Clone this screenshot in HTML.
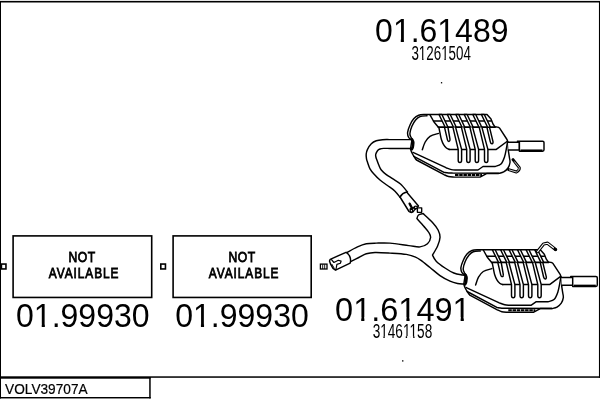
<!DOCTYPE html>
<html lang="en">
<head>
<meta charset="utf-8">
<title>VOLV39707A</title>
<style>
html,body{margin:0;padding:0;background:#fff;}
body{width:600px;height:400px;overflow:hidden;}
svg{display:block;will-change:transform;}
text{font-family:"Liberation Sans",Arial,Helvetica,sans-serif;fill:#000;}
.ln{fill:none;stroke:#000;stroke-width:1.45;stroke-linecap:round;stroke-linejoin:round;}
.lw{fill:#fff;stroke:#000;stroke-width:1.45;stroke-linecap:round;stroke-linejoin:round;}
</style>
</head>
<body>
<svg width="600" height="400" viewBox="0 0 600 400">
<rect x="0" y="0" width="600" height="400" fill="#fff"/>
<g id="frame" fill="#000">
<rect x="0" y="0.9" width="600" height="1.6"/>
<rect x="0" y="1" width="1" height="397.5"/>
<rect x="598.95" y="1" width="1.05" height="376.8"/>
<rect x="0" y="376.3" width="600" height="1.5"/>
<rect x="0" y="377" width="150.6" height="1.7"/>
<rect x="149.2" y="377" width="1.5" height="21.4"/>
<rect x="0" y="397" width="150.7" height="1.45"/>
</g>
<g id="boxes" fill="none" stroke="#000" stroke-width="1.6">
<rect x="13.1" y="235.9" width="138.6" height="61.55"/>
<rect x="173.1" y="235.9" width="138.1" height="61.55"/>
<rect x="1.4" y="264.05" width="4.55" height="4.9"/>
<rect x="160.8" y="264.05" width="4.65" height="4.9"/>
<rect x="320.4" y="264.1" width="6.6" height="4.9" stroke-width="1.3"/>
<path d="M322.7 264.3V269M324.7 264.3V269" stroke-width="0.9"/>
</g>
<g id="drawing">
<path class="lw" d="M412.50 139.60C410.42 139.60 403.75 139.60 400.00 139.60C396.25 139.60 392.92 139.58 390.00 139.60C387.08 139.62 384.78 139.50 382.50 139.70C380.22 139.90 378.17 140.12 376.30 140.80C374.43 141.48 372.77 142.37 371.30 143.80C369.83 145.23 368.35 147.70 367.50 149.40C366.65 151.10 366.37 152.43 366.20 154.00C366.03 155.57 366.27 157.38 366.50 158.80C366.73 160.22 367.02 160.83 367.60 162.50C368.18 164.17 368.98 166.93 370.00 168.80C371.02 170.67 372.03 171.83 373.70 173.70C375.37 175.57 377.70 178.03 380.00 180.00C382.30 181.97 385.00 183.63 387.50 185.50C390.00 187.37 392.92 189.23 395.00 191.20C397.08 193.17 399.17 196.28 400.00 197.30L407.50 192.00C406.33 190.67 403.00 186.23 400.50 184.00C398.00 181.77 394.87 180.17 392.50 178.60C390.13 177.03 388.17 176.03 386.30 174.60C384.43 173.17 382.55 171.60 381.30 170.00C380.05 168.40 379.53 166.67 378.80 165.00C378.07 163.33 377.37 161.25 376.90 160.00C376.43 158.75 376.20 158.43 376.00 157.50C375.80 156.57 375.45 155.53 375.70 154.40C375.95 153.27 376.78 151.60 377.50 150.70C378.22 149.80 378.95 149.38 380.00 149.00C381.05 148.62 382.13 148.50 383.80 148.40C385.47 148.30 387.30 148.40 390.00 148.40C392.70 148.40 396.25 148.40 400.00 148.40C403.75 148.40 410.42 148.40 412.50 148.40"/>
<path class="lw" d="M400 197C401.5 194.6 404 192.6 406.6 192L418.5 206L414.2 210.3C413.2 212.6 411 213.2 409 211.5Z"/>
<rect x="417.4" y="207.8" width="4.3" height="4.5" class="lw" style="stroke-width:1.35"/>
<path d="M409.6 203.6L412.3 208.8" fill="none" stroke="#000" stroke-width="2.3" stroke-linecap="round"/>
<path d="M410.4 209.2L416 206.7" fill="none" stroke="#000" stroke-width="1.9" stroke-linecap="round"/>
<circle cx="411.4" cy="210.7" r="1.3" class="lw" style="stroke-width:1.2"/>
<rect x="414.6" y="206.2" width="2.4" height="2.4" class="lw" style="stroke-width:1.1"/>
<path class="lw" d="M346.90 252.50C348.67 251.57 354.27 248.35 357.50 246.90C360.73 245.45 363.17 244.43 366.30 243.80C369.43 243.17 372.35 243.22 376.30 243.10C380.25 242.98 384.58 242.68 390.00 243.10C395.42 243.52 403.80 244.97 408.80 245.60C413.80 246.23 416.88 247.20 420.00 246.90C423.12 246.60 425.73 245.37 427.50 243.80C429.27 242.23 430.38 239.38 430.60 237.50C430.82 235.62 429.93 234.37 428.80 232.50C427.67 230.63 425.78 228.62 423.80 226.30C421.82 223.98 418.05 219.88 416.90 218.60C417.17 218.00 417.47 215.83 418.50 215.00C419.53 214.17 422.33 213.83 423.10 213.60C424.67 215.08 430.00 219.77 432.50 222.50C435.00 225.23 436.85 227.50 438.10 230.00C439.35 232.50 440.10 234.78 440.00 237.50C439.90 240.22 438.75 243.38 437.50 246.30C436.25 249.22 433.33 253.55 432.50 255.00C433.12 256.37 434.12 259.10 436.20 261.20C438.28 263.30 442.07 266.03 445.00 268.00C447.93 269.97 450.88 271.83 453.80 273.00C456.72 274.17 460.13 274.57 462.50 275.00C464.87 275.43 467.08 275.50 468.00 275.60L468.00 284.20C467.30 284.17 465.55 284.12 463.80 284.00C462.05 283.88 459.80 283.97 457.50 283.50C455.20 283.03 452.92 282.52 450.00 281.20C447.08 279.88 443.33 277.88 440.00 275.60C436.67 273.32 433.17 270.03 430.00 267.50C426.83 264.97 423.50 262.17 421.00 260.40C418.50 258.63 417.45 257.90 415.00 256.90C412.55 255.90 410.47 255.03 406.30 254.40C402.13 253.77 395.22 253.42 390.00 253.10C384.78 252.78 378.95 252.38 375.00 252.50C371.05 252.62 369.00 252.97 366.30 253.80C363.60 254.63 361.42 256.20 358.80 257.50C356.18 258.80 351.97 260.92 350.60 261.60"/>
<path class="lw" d="M330.2 259.3L346 252.3C349.3 254 351.5 258.5 350.2 263.1L335.5 270.1L333 268.4L330.6 264.2L329.5 261Z"/>
<path class="ln" d="M331.5 259.6L333.9 262.5L338.3 260.3L341.1 261L340.4 263.2L336.9 264.4L336.4 267.2L335.8 269.8" style="stroke-width:1.2"/>
<path class="ln" d="M331.9 264.3L334.2 268.2" style="stroke-width:1"/>
<g id="muffler1">
<path class="lw" d="M425.00 114.50C423.95 114.63 420.58 114.58 418.70 115.30C416.82 116.02 415.15 117.18 413.70 118.80C412.25 120.42 411.02 122.72 410.00 125.00C408.98 127.28 407.82 130.42 407.60 132.50C407.38 134.58 407.98 136.25 408.70 137.50C409.42 138.75 411.37 139.58 411.90 140.00L410.5 149C410.75 149.67 411.25 151.50 412.00 153.00C412.75 154.50 414.25 156.83 415.00 158.00C415.75 159.17 416.25 159.67 416.50 160.00L444 174.6C444.75 174.92 446.83 176.08 448.50 176.50C450.17 176.92 453.08 177.00 454.00 177.10L480 177.1L487 173.4L498.7 173.4C499.53 173.15 502.15 172.80 503.70 171.90C505.25 171.00 506.95 169.57 508.00 168.00C509.05 166.43 509.77 164.25 510.00 162.50C510.23 160.75 509.67 159.42 509.40 157.50C509.13 155.58 508.57 152.08 508.40 151.00L508 142.3L507 139.5L499.6 128.2Q498.8 127 497 127L495 126.8L493 124L491 119L487 114.5Z"/>
<path class="ln" d="M427.00 115.80C425.83 115.93 421.90 115.90 420.00 116.60C418.10 117.30 416.95 118.38 415.60 120.00C414.25 121.62 412.85 124.05 411.90 126.30C410.95 128.55 410.05 131.67 409.90 133.50C409.75 135.33 410.55 136.33 411.00 137.30C411.45 138.27 412.33 138.97 412.60 139.30"/>
<path d="M411.7 139.4C412.9 140.6 413.5 142.4 413.1 144.2C412.8 146 413.1 147.6 411.9 149" fill="none" stroke="#000" stroke-width="2.7" stroke-linecap="round"/>
<path class="ln" d="M413 152.4L446 167.7C446.92 168.02 449.83 169.22 451.50 169.60C453.17 169.98 455.25 169.93 456.00 170.00L478 170L483 166.5L495 166.5C496.00 166.08 499.42 165.58 501.00 164.00C502.58 162.42 503.58 159.67 504.50 157.00C505.42 154.33 506.00 150.58 506.50 148.00C507.00 145.42 507.33 142.58 507.50 141.50"/>
<path class="ln" d="M413.8 156.3L444 172.4C444.75 172.50 447.00 172.88 448.50 173.00C450.00 173.12 452.25 173.08 453.00 173.10L498.7 173.3"/>
<path d="M455 175H482" fill="none" stroke="#000" stroke-width="2.1" stroke-dasharray="3.5 0.7"/>
<path class="ln" d="M507 141.5L496.3 149.4L449 149.4"/>
<path class="ln" d="M430.00 114.80L434.00 122.00L439.00 128.00C439.17 128.83 439.60 131.08 440.00 133.00C440.40 134.92 440.80 137.57 441.40 139.50C442.00 141.43 442.77 143.18 443.60 144.60C444.43 146.02 445.42 147.20 446.40 148.00C447.38 148.80 448.98 149.17 449.50 149.40"/>
<path class="ln" d="M438.50 133.40C437.08 133.88 432.22 134.87 430.00 136.30C427.78 137.73 426.48 139.75 425.20 142.00C423.92 144.25 422.78 148.50 422.30 149.80"/>
<path class="ln" d="M433.5 121H491"/>
<path class="ln" d="M438.5 127.2H495" style="stroke-width:1.8"/>
<path class="lw" d="M439.00 114.50L445.20 127.20L448.00 127.20L441.90 114.50Z"/>
<path class="lw" d="M447.30 114.50L453.50 127.20L456.30 127.20L450.20 114.50Z"/>
<path class="lw" d="M455.80 114.50L462.00 127.20L464.80 127.20L458.70 114.50Z"/>
<path class="lw" d="M464.20 114.50L470.40 127.20L473.20 127.20L467.10 114.50Z"/>
<path class="lw" d="M472.80 114.50L479.00 127.20L481.80 127.20L475.70 114.50Z"/>
<path class="lw" d="M481.40 114.50L487.60 127.20L490.40 127.20L484.30 114.50Z"/>
<path class="ln" d="M444.6 127.6L447.4 139.6C448 142.2 450.2 142 450 139.4L448 127.6"/>
<path class="ln" d="M487 127.6L490.3 141.8C491 144.6 493.4 144.2 493 141.6L489.6 127.6"/>
<path class="lw" d="M453 127.6L458.2 149.4L458.2 160.3C458.2 163.3 461.6 163.3 461.6 160.3L461.6 149.4L455.7 127.6"/>
<path class="lw" d="M461.5 127.6L466.7 149.4L466.7 160.3C466.7 163.3 470.1 163.3 470.1 160.3L470.1 149.4L464.2 127.6"/>
<path class="lw" d="M470 127.6L475.2 149.4L475.2 160.3C475.2 163.3 478.6 163.3 478.6 160.3L478.6 149.4L472.7 127.6"/>
<path class="lw" d="M479.3 127.6L484.5 149.4L484.5 160.3C484.5 163.3 487.9 163.3 487.9 160.3L487.9 149.4L482.0 127.6"/>
<path class="lw" d="M508 142.3H519.4V150H508.4"/>
<path class="lw" d="M517.4 141.2H542.6Q544 141.2 544 142.6V149.8Q544 151.2 542.6 151.2H519.4V141.2"/>
<path d="M520.5 150.3H542.5" fill="none" stroke="#000" stroke-width="1.7"/>
<path d="M513 159.6L519.3 167.6Q519.8 170.2 516.4 172L508.6 169.6" fill="none" stroke="#000" stroke-width="2.9" stroke-linecap="round" stroke-linejoin="round"/>
<path d="M514.6 161.8L519.3 167.6Q519.8 170.2 516.4 172L509.4 169.9" fill="none" stroke="#fff" stroke-width="0.8" stroke-linecap="round" stroke-linejoin="round"/>
</g>
<g id="muffler2" transform="translate(53.3 135.2)">
<path class="lw" d="M425.00 114.50C423.95 114.63 420.58 114.58 418.70 115.30C416.82 116.02 415.15 117.18 413.70 118.80C412.25 120.42 411.02 122.72 410.00 125.00C408.98 127.28 407.82 130.42 407.60 132.50C407.38 134.58 407.98 136.25 408.70 137.50C409.42 138.75 411.37 139.58 411.90 140.00L410.5 149C410.75 149.67 411.25 151.50 412.00 153.00C412.75 154.50 414.25 156.83 415.00 158.00C415.75 159.17 416.25 159.67 416.50 160.00L444 174.6C444.75 174.92 446.83 176.08 448.50 176.50C450.17 176.92 453.08 177.00 454.00 177.10L480 177.1L487 173.4L498.7 173.4C499.53 173.15 502.15 172.80 503.70 171.90C505.25 171.00 506.95 169.57 508.00 168.00C509.05 166.43 509.77 164.25 510.00 162.50C510.23 160.75 509.67 159.42 509.40 157.50C509.13 155.58 508.57 152.08 508.40 151.00L508 142.3L507 139.5L499.6 128.2Q498.8 127 497 127L495 126.8L493 124L491 119L487 114.5Z"/>
<path class="ln" d="M427.00 115.80C425.83 115.93 421.90 115.90 420.00 116.60C418.10 117.30 416.95 118.38 415.60 120.00C414.25 121.62 412.85 124.05 411.90 126.30C410.95 128.55 410.05 131.67 409.90 133.50C409.75 135.33 410.55 136.33 411.00 137.30C411.45 138.27 412.33 138.97 412.60 139.30"/>
<path d="M411.7 139.4C412.9 140.6 413.5 142.4 413.1 144.2C412.8 146 413.1 147.6 411.9 149" fill="none" stroke="#000" stroke-width="2.7" stroke-linecap="round"/>
<path class="ln" d="M413 152.4L446 167.7C446.92 168.02 449.83 169.22 451.50 169.60C453.17 169.98 455.25 169.93 456.00 170.00L478 170L483 166.5L495 166.5C496.00 166.08 499.42 165.58 501.00 164.00C502.58 162.42 503.58 159.67 504.50 157.00C505.42 154.33 506.00 150.58 506.50 148.00C507.00 145.42 507.33 142.58 507.50 141.50"/>
<path class="ln" d="M413.8 156.3L444 172.4C444.75 172.50 447.00 172.88 448.50 173.00C450.00 173.12 452.25 173.08 453.00 173.10L498.7 173.3"/>
<path d="M455 175H482" fill="none" stroke="#000" stroke-width="2.1" stroke-dasharray="3.5 0.7"/>
<path class="ln" d="M507 141.5L496.3 149.4L449 149.4"/>
<path class="ln" d="M430.00 114.80L434.00 122.00L439.00 128.00C439.17 128.83 439.60 131.08 440.00 133.00C440.40 134.92 440.80 137.57 441.40 139.50C442.00 141.43 442.77 143.18 443.60 144.60C444.43 146.02 445.42 147.20 446.40 148.00C447.38 148.80 448.98 149.17 449.50 149.40"/>
<path class="ln" d="M438.50 133.40C437.08 133.88 432.22 134.87 430.00 136.30C427.78 137.73 426.48 139.75 425.20 142.00C423.92 144.25 422.78 148.50 422.30 149.80"/>
<path class="ln" d="M433.5 121H491"/>
<path class="ln" d="M438.5 127.2H495" style="stroke-width:1.8"/>
<path class="lw" d="M439.00 114.50L445.20 127.20L448.00 127.20L441.90 114.50Z"/>
<path class="lw" d="M447.30 114.50L453.50 127.20L456.30 127.20L450.20 114.50Z"/>
<path class="lw" d="M455.80 114.50L462.00 127.20L464.80 127.20L458.70 114.50Z"/>
<path class="lw" d="M464.20 114.50L470.40 127.20L473.20 127.20L467.10 114.50Z"/>
<path class="lw" d="M472.80 114.50L479.00 127.20L481.80 127.20L475.70 114.50Z"/>
<path class="lw" d="M481.40 114.50L487.60 127.20L490.40 127.20L484.30 114.50Z"/>
<path class="ln" d="M444.6 127.6L447.4 139.6C448 142.2 450.2 142 450 139.4L448 127.6"/>
<path class="ln" d="M487 127.6L490.3 141.8C491 144.6 493.4 144.2 493 141.6L489.6 127.6"/>
<path class="lw" d="M453 127.6L458.2 149.4L458.2 160.3C458.2 163.3 461.6 163.3 461.6 160.3L461.6 149.4L455.7 127.6"/>
<path class="lw" d="M461.5 127.6L466.7 149.4L466.7 160.3C466.7 163.3 470.1 163.3 470.1 160.3L470.1 149.4L464.2 127.6"/>
<path class="lw" d="M470 127.6L475.2 149.4L475.2 160.3C475.2 163.3 478.6 163.3 478.6 160.3L478.6 149.4L472.7 127.6"/>
<path class="lw" d="M479.3 127.6L484.5 149.4L484.5 160.3C484.5 163.3 487.9 163.3 487.9 160.3L487.9 149.4L482.0 127.6"/>
<path class="lw" d="M508 142.3H519.4V150H508.4"/>
<path class="lw" d="M517.4 141.2H542.6Q544 141.2 544 142.6V149.8Q544 151.2 542.6 151.2H519.4V141.2"/>
<path d="M520.5 150.3H542.5" fill="none" stroke="#000" stroke-width="1.7"/>
<path d="M484.30 116.40L490.30 108.80L494.30 108.00L501.90 114.00" fill="none" stroke="#000" stroke-width="3.3" stroke-linecap="round" stroke-linejoin="round"/>
<path d="M484.30 116.40L490.30 108.80L494.30 108.00L500.10 112.60" fill="none" stroke="#fff" stroke-width="1.1" stroke-linecap="round" stroke-linejoin="round"/>
<circle cx="502.3" cy="114.4" r="1.6" fill="#000"/>
</g>
</g>
<g id="texts">
<text x="375.1" y="42.35" font-size="33.75" textLength="133.4" lengthAdjust="spacingAndGlyphs">01.61489</text>
<rect x="393.88" y="38.93" width="6.90" height="4.97" fill="#fff"/><rect x="403.91" y="38.93" width="6.65" height="4.97" fill="#fff"/>
<rect x="438.34" y="38.93" width="6.90" height="4.97" fill="#fff"/><rect x="448.37" y="38.93" width="6.65" height="4.97" fill="#fff"/>
<text x="411.45" y="60.4" font-size="20" textLength="59.4" lengthAdjust="spacingAndGlyphs">31261504</text>
<rect x="419.15" y="58.06" width="2.98" height="3.84" fill="#fff"/><rect x="423.51" y="58.06" width="2.88" height="3.84" fill="#fff"/>
<rect x="441.43" y="58.06" width="2.98" height="3.84" fill="#fff"/><rect x="445.79" y="58.06" width="2.88" height="3.84" fill="#fff"/>
<text x="335.1" y="320.6" font-size="33.75" textLength="135.6" lengthAdjust="spacingAndGlyphs">01.61491</text>
<rect x="354.21" y="317.18" width="6.99" height="4.97" fill="#fff"/><rect x="364.38" y="317.18" width="6.74" height="4.97" fill="#fff"/>
<rect x="399.41" y="317.18" width="6.99" height="4.97" fill="#fff"/><rect x="409.57" y="317.18" width="6.74" height="4.97" fill="#fff"/>
<rect x="453.65" y="317.18" width="6.99" height="4.97" fill="#fff"/><rect x="463.82" y="317.18" width="6.74" height="4.97" fill="#fff"/>
<text x="372.65" y="338.4" font-size="20" textLength="59.6" lengthAdjust="spacingAndGlyphs">31461158</text>
<rect x="380.38" y="336.06" width="2.99" height="3.84" fill="#fff"/><rect x="384.75" y="336.06" width="2.88" height="3.84" fill="#fff"/>
<rect x="402.73" y="336.06" width="2.99" height="3.84" fill="#fff"/><rect x="407.10" y="336.06" width="2.88" height="3.84" fill="#fff"/>
<rect x="410.18" y="336.06" width="2.99" height="3.84" fill="#fff"/><rect x="414.55" y="336.06" width="2.88" height="3.84" fill="#fff"/>
<text x="16.0" y="327.3" font-size="33.75" textLength="133.6" lengthAdjust="spacingAndGlyphs">01.99930</text>
<rect x="34.81" y="323.88" width="6.91" height="4.97" fill="#fff"/><rect x="44.85" y="323.88" width="6.66" height="4.97" fill="#fff"/>
<text x="175.2" y="327.3" font-size="33.75" textLength="133.6" lengthAdjust="spacingAndGlyphs">01.99930</text>
<rect x="194.01" y="323.88" width="6.91" height="4.97" fill="#fff"/><rect x="204.05" y="323.88" width="6.66" height="4.97" fill="#fff"/>
<text transform="translate(68.5,261.7) scale(0.81,1)" font-size="15" letter-spacing="0.6" stroke="#000" stroke-width="0.85">NOT</text>
<text transform="translate(48.8,277.8) scale(0.79,1)" font-size="15" letter-spacing="1.2" stroke="#000" stroke-width="0.85">AVAILABLE</text>
<text transform="translate(228.5,261.7) scale(0.81,1)" font-size="15" letter-spacing="0.6" stroke="#000" stroke-width="0.85">NOT</text>
<text transform="translate(208.8,277.8) scale(0.79,1)" font-size="15" letter-spacing="1.2" stroke="#000" stroke-width="0.85">AVAILABLE</text>
<text x="5.1" y="393.9" font-size="14" text-anchor="start" font-weight="normal" textLength="82.5" lengthAdjust="spacingAndGlyphs" stroke="#000" stroke-width="0.2">VOLV39707A</text>
<rect x="440.9" y="82.1" width="1.3" height="1.3"/><rect x="402.1" y="360.2" width="1.3" height="1.4"/>
</g>
</svg>
</body>
</html>
